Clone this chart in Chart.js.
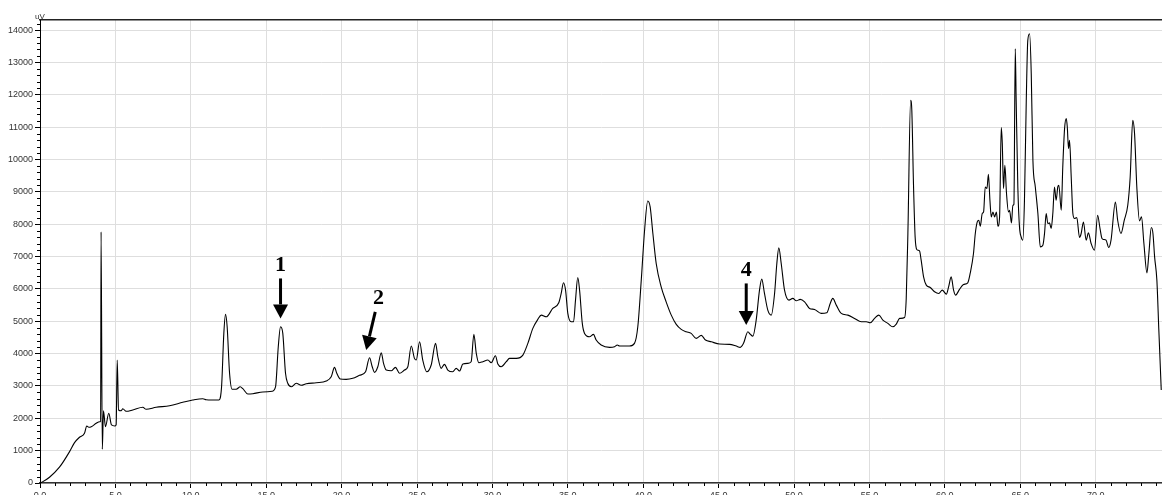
<!DOCTYPE html>
<html>
<head>
<meta charset="utf-8">
<script src="https://cdn.jsdelivr.net/npm/chart.js@4.4.1/dist/chart.umd.min.js"></script>
<style>
    html, body { margin: 0; padding: 0; background: #fff; overflow: hidden; }
    #wrap { position: relative; width: 1162px; height: 505px; }
</style>
</head>
<body>
<div id="wrap"><canvas id="chrom"></canvas></div>
<script>
// retention time (min)
const times = [
    0.00, 0.19, 0.63, 1.29, 1.96, 2.29, 2.62, 2.95, 3.10, 3.24, 3.40, 3.73, 3.95, 4.02, 4.05, 4.13,
    4.21, 4.34, 4.56, 4.74, 4.96, 5.05, 5.12, 5.21, 5.38, 5.49, 5.71, 6.15, 6.82, 7.04, 7.70, 8.59,
    9.47, 10.13, 10.80, 11.02, 11.86, 12.04, 12.19, 12.30, 12.41, 12.57, 12.74, 13.01, 13.28, 13.45,
    13.78, 14.11, 14.78, 15.40, 15.62, 15.80, 15.95, 16.10, 16.28, 16.43, 16.66, 16.99, 17.32, 17.66,
    18.32, 18.98, 19.31, 19.53, 19.68, 19.91, 20.30, 20.74, 21.19, 21.59, 21.85, 22.03, 22.18, 22.40,
    22.63, 22.78, 22.96, 23.29, 23.57, 23.84, 24.17, 24.39, 24.62, 24.83, 24.95, 25.17, 25.38, 25.65,
    25.94, 26.23, 26.38, 26.60, 26.82, 27.04, 27.37, 27.60, 27.82, 28.04, 28.37, 28.59, 28.77, 28.93,
    29.10, 29.36, 29.70, 29.92, 30.20, 30.36, 30.58, 30.92, 31.13, 31.58, 32.02, 32.35, 32.68, 33.01,
    33.24, 33.57, 34.00, 34.40, 34.56, 34.71, 34.85, 35.00, 35.22, 35.38, 35.51, 35.66, 35.78, 35.96,
    36.11, 36.44, 36.70, 36.88, 37.21, 37.77, 38.10, 38.28, 38.43, 39.09, 39.42, 39.64, 39.87, 40.09,
    40.30, 40.46, 40.64, 40.86, 41.19, 41.52, 41.86, 42.19, 42.52, 42.85, 43.18, 43.51, 43.85, 44.13,
    44.51, 45.06, 45.72, 46.17, 46.43, 46.65, 46.94, 47.09, 47.27, 47.49, 47.71, 47.86, 48.04, 48.26,
    48.49, 48.71, 48.86, 48.99, 49.15, 49.37, 49.66, 49.92, 50.15, 50.41, 50.70, 51.03, 51.36, 51.80,
    52.17, 52.40, 52.57, 52.80, 53.13, 53.57, 54.01, 54.46, 54.79, 55.05, 55.34, 55.62, 55.89, 56.22,
    56.55, 56.78, 57.00, 57.33, 57.44, 57.55, 57.73, 57.81, 57.92, 58.03, 58.14, 58.32, 58.43, 58.59,
    58.77, 59.03, 59.32, 59.60, 59.83, 60.10, 60.25, 60.42, 60.58, 60.71, 60.97, 61.24, 61.52, 61.68,
    61.90, 62.02, 62.15, 62.25, 62.35, 62.48, 62.57, 62.68, 62.79, 62.89, 62.99, 63.08, 63.19, 63.30,
    63.42, 63.52, 63.63, 63.74, 63.81, 63.89, 63.98, 64.09, 64.22, 64.29, 64.42, 64.51, 64.58, 64.67,
    64.73, 64.84, 64.95, 65.06, 65.17, 65.28, 65.40, 65.50, 65.62, 65.73, 65.84, 66.00, 66.17, 66.33,
    66.50, 66.61, 66.72, 66.83, 66.94, 67.05, 67.16, 67.27, 67.38, 67.49, 67.56, 67.72, 67.82, 67.94,
    68.05, 68.12, 68.20, 68.27, 68.38, 68.49, 68.60, 68.75, 68.93, 69.04, 69.19, 69.37, 69.52, 69.70,
    69.92, 70.13, 70.29, 70.42, 70.53, 70.69, 70.87, 71.02, 71.31, 71.46, 71.68, 71.90, 72.13, 72.29,
    72.46, 72.58, 72.73, 72.91, 73.04, 73.20, 73.40, 73.53, 73.69, 73.80, 73.91, 74.06, 74.19, 74.35
];

// detector signal (uV)
const signal = [
    0, 43, 179, 488, 970, 1247, 1414, 1537, 1763, 1722, 1741, 1846, 1895, 1900, 7761, 1043,
    2235, 1741, 2155, 1794, 1763, 1800, 3800, 2257, 2235, 2297, 2216, 2257, 2340, 2278, 2340, 2389,
    2494, 2565, 2606, 2575, 2565, 2976, 4624, 5211, 4828, 3390, 2896, 2896, 2976, 2914,
    2751, 2760, 2812, 2834, 2976, 4211, 4828, 4624, 3390, 3081, 2976, 3081, 3019, 3068,
    3099, 3152, 3285, 3575, 3390, 3214, 3204, 3235, 3328, 3439, 3871, 3593, 3420, 3593,
    4025, 3698, 3491, 3470, 3575, 3390, 3491, 3593, 4232, 3852, 3800, 4365, 3800, 3439,
    3646, 4316, 3902, 3544, 3667, 3491, 3439, 3544, 3460, 3677, 3698, 3748, 4593, 4007,
    3717, 3748, 3800, 3717, 3933, 3677, 3593, 3748, 3852, 3852, 3954, 4316, 4779, 5057,
    5189, 5137, 5396, 5569, 5859, 6187, 5961, 5242, 4982, 4982, 5652, 6353, 5961, 4933,
    4624, 4520, 4593, 4418, 4263, 4192, 4211, 4263, 4232, 4232, 4316, 4828, 6270, 7813,
    8718, 8533, 7711, 6785, 6063, 5600, 5189, 4902, 4748, 4674, 4624, 4470, 4563, 4418,
    4365, 4294, 4285, 4232, 4192, 4316, 4674, 4603, 4541, 5035, 5961, 6301, 5859, 5344,
    5189, 5859, 6785, 7267, 6785, 5961, 5652, 5705, 5631, 5674, 5600, 5396, 5365, 5242,
    5260, 5550, 5705, 5498, 5242, 5189, 5087, 4982, 4982, 4951, 5087, 5189, 5035, 4933,
    4828, 4912, 5087, 5118, 5705, 7711, 11826, 11518, 9255, 7607, 7217, 7174, 6887, 6372,
    6115, 6044, 5909, 5859, 5961, 5838, 6063, 6372, 5961, 5807, 5982, 6136, 6187, 6476,
    7093, 7711, 8069, 8121, 7937, 8328, 8378, 9150, 9100, 9542, 8739, 8224, 8378, 8224,
    8378, 7937, 8224, 10983, 10490, 9100, 9820, 8946, 8378, 8430, 8039, 8585, 8616, 13422,
    11826, 9150, 7915, 7607, 7504, 8739, 11826, 13678, 13885, 12651, 9974, 9150, 8328, 7297,
    7350, 7711, 8328, 8020, 8039, 7866, 8328, 9150, 8739, 9150, 9202, 8430, 9768, 10953,
    11261, 11003, 10336, 10592, 9459, 8328, 8174, 8205, 7588, 7711, 8069, 7504, 7730, 7403,
    7196, 8276, 7866, 7557, 7526, 7504, 7279, 7504, 8687, 8121, 7711, 8121, 8585, 9459,
    11209, 10798, 9150, 8100, 8224, 7403, 6495, 7093, 7896, 7711, 6989, 6270, 4726, 2874
];

// axis tick values
const xTickValues = [0, 5, 10, 15, 20, 25, 30, 35, 40, 45, 50, 55, 60, 65, 70];
const yTickValues = [0, 1000, 2000, 3000, 4000, 5000, 6000, 7000, 8000, 9000, 10000, 11000, 12000, 13000, 14000];

// peak markers: label, arrow tail (min, uV), arrow tip (min, uV)
const markerLabels = ['1', '2', '4'];
const markerTail = [[15.95, 6322], [22.23, 5291], [46.83, 6168]];
const markerTip = [[15.95, 5087], [21.63, 4109], [46.83, 4881]];

const X_MAX = 74.4;
const Y_MAX = 14310;
const tickFont = { family: "'Liberation Sans', Arial, sans-serif", size: 9 };

const minorTicks = {
    id: 'minorTicks',
    afterDraw(chart) {
        const { ctx, chartArea, scales } = chart;
        ctx.save();
        ctx.strokeStyle = '#000';
        ctx.lineWidth = 1;
        ctx.beginPath();
        for (let t = 1; t < X_MAX; t++) {
            if (t % 5 === 0) continue;
            const px = Math.round(scales.x.getPixelForValue(t)) + 0.5;
            ctx.moveTo(px, chartArea.bottom);
            ctx.lineTo(px, chartArea.bottom + 3);
        }
        for (let v = 200; v < Y_MAX; v += 200) {
            if (v % 1000 === 0) continue;
            const py = Math.round(scales.y.getPixelForValue(v)) + 0.5;
            ctx.moveTo(chartArea.left - 3, py);
            ctx.lineTo(chartArea.left, py);
        }
        ctx.stroke();

        // unit label
        ctx.fillStyle = '#333';
        ctx.font = "8px 'Liberation Sans', Arial, sans-serif";
        ctx.textBaseline = 'alphabetic';
        ctx.fillText('uV', chartArea.left - 5, chartArea.top - 1);
        ctx.restore();
    }
};

const peakArrows = {
    id: 'peakArrows',
    afterDatasetsDraw(chart) {
        const { ctx, scales } = chart;
        ctx.save();
        ctx.fillStyle = '#000';
        ctx.strokeStyle = '#000';
        markerLabels.forEach((label, i) => {
            const x0 = scales.x.getPixelForValue(markerTail[i][0]);
            const y0 = scales.y.getPixelForValue(markerTail[i][1]);
            const x1 = scales.x.getPixelForValue(markerTip[i][0]);
            const y1 = scales.y.getPixelForValue(markerTip[i][1]);
            const ang = Math.atan2(y1 - y0, x1 - x0);
            const headLen = 14, headHalf = 7.5;
            const bx = x1 - headLen * Math.cos(ang);
            const by = y1 - headLen * Math.sin(ang);

            ctx.lineWidth = 3;
            ctx.beginPath();
            ctx.moveTo(x0, y0);
            ctx.lineTo(bx, by);
            ctx.stroke();

            ctx.beginPath();
            ctx.moveTo(x1, y1);
            ctx.lineTo(bx + headHalf * Math.sin(ang), by - headHalf * Math.cos(ang));
            ctx.lineTo(bx - headHalf * Math.sin(ang), by + headHalf * Math.cos(ang));
            ctx.closePath();
            ctx.fill();

            ctx.font = "bold 22px 'Liberation Serif', 'Times New Roman', serif";
            ctx.textAlign = 'center';
            ctx.textBaseline = 'bottom';
            ctx.fillText(label, x0 + 3 * Math.cos(ang) + (i === 1 ? 4 : 0), y0 - 2);
        });
        ctx.restore();
    }
};

const ctx = document.getElementById('chrom').getContext('2d');
new Chart(ctx, {
    type: 'line',
    data: {
        datasets: [{
            label: 'signal',
            data: times.map((t, i) => ({ x: t, y: signal[i] })),
            borderColor: '#000',
            borderWidth: 1.1,
            pointRadius: 0,
            fill: false,
            cubicInterpolationMode: 'monotone'
        }]
    },
    options: {
        responsive: true,
        maintainAspectRatio: false,
        animation: false,
        layout: { padding: 0 },
        plugins: {
            legend: { display: false },
            tooltip: { enabled: false }
        },
        scales: {
            x: {
                type: 'linear',
                min: 0,
                max: X_MAX,
                afterFit: (scale) => { scale.height = 22; },
                afterBuildTicks: (scale) => { scale.ticks = xTickValues.map(v => ({ value: v })); },
                border: { color: '#333', width: 1.5 },
                grid: { color: '#dedede', lineWidth: 1, tickColor: '#000', tickLength: 5 },
                ticks: {
                    autoSkip: false,
                    maxRotation: 0,
                    padding: 2,
                    color: '#333',
                    font: tickFont,
                    callback: (v) => Number(v).toFixed(1)
                }
            },
            x2: {
                type: 'linear',
                position: 'top',
                afterFit: (scale) => { scale.height = 20; },
                border: { color: '#222', width: 1.5 },
                grid: { display: false, drawTicks: false },
                ticks: { display: false }
            },
            y: {
                min: 0,
                max: Y_MAX,
                afterFit: (scale) => { scale.width = 40; },
                afterBuildTicks: (scale) => { scale.ticks = yTickValues.map(v => ({ value: v })); },
                border: { color: '#000', width: 1 },
                grid: { color: '#dedede', lineWidth: 1, tickColor: '#000', tickLength: 5 },
                ticks: {
                    autoSkip: false,
                    padding: 2,
                    color: '#333',
                    font: tickFont,
                    callback: (v) => String(v)
                }
            }
        }
    },
    plugins: [minorTicks, peakArrows]
});
</script>
</body>
</html>
